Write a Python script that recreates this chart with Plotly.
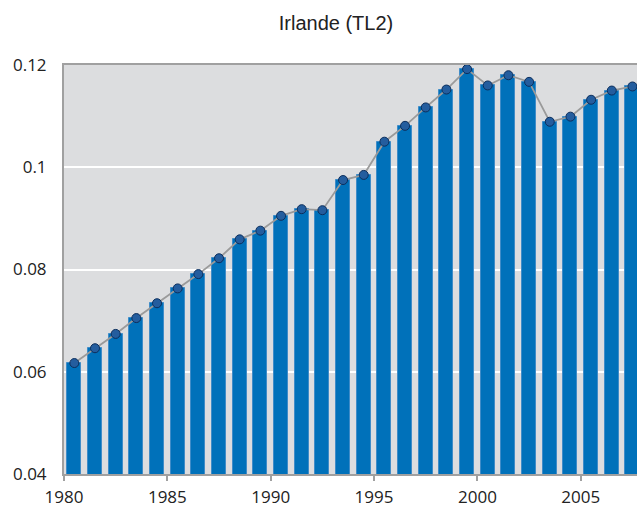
import plotly.graph_objects as go

years = list(range(1980, 2008))
values = [0.0617, 0.0646, 0.0674, 0.0705, 0.0734, 0.0763, 0.0791, 0.0822,
          0.0859, 0.0876, 0.0905, 0.0918, 0.0916, 0.0975, 0.0985, 0.1050,
          0.1081, 0.1117, 0.1152, 0.1192, 0.1160, 0.1180, 0.1167, 0.1089,
          0.1099, 0.1132, 0.1150, 0.1158]
x_ticks = [1980, 1985, 1990, 1995, 2000, 2005]
y_ticks = [0.04, 0.06, 0.08, 0.10, 0.12]
y_tick_labels = ["0.04", "0.06", "0.08", "0.1", "0.12"]
title_text = "Irlande (TL2)"

xpos = [y + 0.5 for y in years]

fig = go.Figure()
fig.add_trace(go.Bar(
    x=xpos, y=values, width=0.68,
    marker=dict(color="#0071BA", line=dict(color="#3F8CC8", width=1)),
    showlegend=False, hoverinfo="skip",
))
fig.add_trace(go.Scatter(
    x=xpos, y=values, mode="lines+markers",
    line=dict(color="#9A9A9A", width=1.8),
    marker=dict(symbol="circle", size=9, color="#245D9E",
                line=dict(color="#0C2E5C", width=1)),
    showlegend=False,
))

fig.update_layout(
    width=637, height=509,
    margin=dict(l=64, r=0, t=65, b=35),
    paper_bgcolor="white",
    plot_bgcolor="#DCDDDF",
    bargap=0,
    title=dict(text=title_text, x=336/637, xref="container", xanchor="center",
               y=1-23/509, yref="container", yanchor="middle",
               font=dict(family="Liberation Sans, Arial", size=20, color="#222222")),
    font=dict(family="Open Sans", size=17, color="#222222"),
)
fig.update_xaxes(
    range=[1980, 2007.72], tickmode="array", tickvals=x_ticks,
    ticktext=[str(t) for t in x_ticks],
    showgrid=False, zeroline=False, automargin=False,
    showline=True, linecolor="#A0A0A0", linewidth=2, mirror=True,
    ticks="outside", ticklen=5, tickwidth=2, tickcolor="#A0A0A0",
    ticklabelstandoff=2,
)
fig.update_yaxes(
    range=[0.04, 0.12], tickmode="array", tickvals=y_ticks, ticktext=y_tick_labels,
    showgrid=True, gridcolor="white", gridwidth=2, zeroline=False, automargin=False,
    showline=True, linecolor="#A0A0A0", linewidth=2,
    ticks="", ticklabelstandoff=12,
)

fig.write_html("out.html", config={"displayModeBar": False},
               post_script="document.body.style.margin='0';document.body.style.overflow='hidden';")
